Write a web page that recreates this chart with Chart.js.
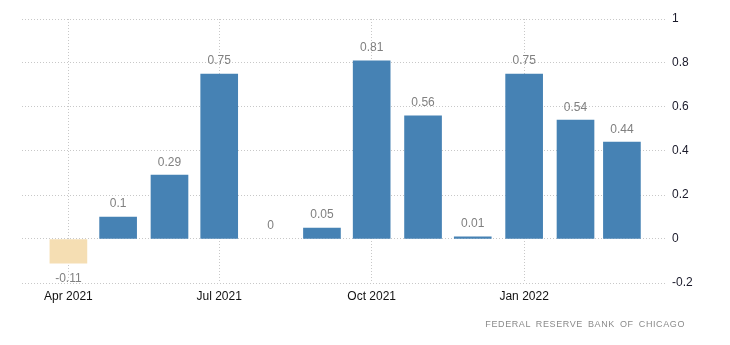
<!DOCTYPE html>
<html>
<head>
<meta charset="utf-8">
<script src="https://cdn.jsdelivr.net/npm/chart.js@4.4.1/dist/chart.umd.min.js"></script>
<style>
  html, body { margin: 0; padding: 0; background: #ffffff; }
  #wrap { position: relative; width: 730px; height: 345px; }
  #source {
    position: absolute;
    right: 45px;
    top: 319px;
    font: 9px "Liberation Sans", Arial, sans-serif;
    letter-spacing: 0.6px;
    word-spacing: 2px;
    color: #8a8a8a;
  }
</style>
</head>
<body>
<div id="wrap">
  <canvas id="chart" width="730" height="345"></canvas>
  <div id="source">FEDERAL RESERVE BANK OF CHICAGO</div>
</div>
<script>
// monthly values, Apr 2021 .. Mar 2022
const months = ['2021-04', '2021-05', '2021-06', '2021-07', '2021-08', '2021-09',
                '2021-10', '2021-11', '2021-12', '2022-01', '2022-02', '2022-03'];
const values = [-0.11, 0.1, 0.29, 0.75, 0, 0.05, 0.81, 0.56, 0.01, 0.75, 0.54, 0.44];
const tickMonths = ['2021-04', '2021-07', '2021-10', '2022-01'];
const tickLabels = ['Apr 2021', 'Jul 2021', 'Oct 2021', 'Jan 2022'];
const yTicks = [-0.2, 0, 0.2, 0.4, 0.6, 0.8, 1];

const FONT = '"Liberation Sans", Arial, sans-serif';
const BLUE = '#4682B4';
const WHEAT = '#F5DEB3';
const GRID = '#c8c8c8';

// days since the first month, so the x axis spaces bars like a time axis
const dayOf = (ym) => {
  const [y, m] = ym.split('-').map(Number);
  const [y0, m0] = months[0].split('-').map(Number);
  return (Date.UTC(y, m - 1, 1) - Date.UTC(y0, m0 - 1, 1)) / 86400000;
};

const points = months.map((m, i) => ({ x: dayOf(m), y: values[i] }));
const tickDays = tickMonths.map(dayOf);

const barColor = (v) => {
  if (v === 0) return 'rgba(0,0,0,0)';
  return v < 0 ? WHEAT : BLUE;
};

const valueLabels = {
  id: 'valueLabels',
  afterDatasetsDraw(chart) {
    const { ctx } = chart;
    const meta = chart.getDatasetMeta(0);
    ctx.save();
    ctx.font = `12px ${FONT}`;
    ctx.fillStyle = '#808080';
    ctx.textAlign = 'center';
    ctx.textBaseline = 'middle';
    meta.data.forEach((bar, i) => {
      const v = values[i];
      const y = v < 0 ? bar.y + 15 : bar.y - 13;
      ctx.fillText(String(v), bar.x, y);
    });
    ctx.restore();
  }
};

new Chart(document.getElementById('chart'), {
  type: 'bar',
  plugins: [valueLabels],
  data: {
    datasets: [{
      data: points,
      backgroundColor: values.map(barColor),
      borderWidth: 0,
      barThickness: 37
    }]
  },
  options: {
    responsive: false,
    animation: false,
    layout: { padding: { top: 19, left: 22, right: 0, bottom: 0 } },
    plugins: {
      legend: { display: false },
      tooltip: { enabled: false }
    },
    scales: {
      x: {
        type: 'linear',
        min: -28,
        max: 360,
        offset: false,
        afterBuildTicks(axis) {
          axis.ticks = tickDays.map((value) => ({ value }));
        },
        afterFit(axis) {
          axis.height = 62;
        },
        ticks: {
          color: '#111111',
          font: { family: FONT, size: 12 },
          padding: 6,
          maxRotation: 0,
          autoSkip: false,
          callback(value) {
            const idx = tickDays.indexOf(value);
            return idx >= 0 ? tickLabels[idx] : '';
          }
        },
        grid: {
          color: GRID,
          offset: false,
          drawTicks: false
        },
        border: { display: false, dash: [1, 2] }
      },
      y: {
        position: 'right',
        min: -0.2,
        max: 1,
        afterBuildTicks(axis) {
          axis.ticks = yTicks.map((value) => ({ value }));
        },
        afterFit(axis) {
          axis.width = 65;
        },
        ticks: {
          color: '#1a1a2a',
          font: { family: FONT, size: 12 },
          padding: 7,
          callback: (value) => String(value)
        },
        grid: {
          color: GRID,
          drawTicks: false
        },
        border: { display: false, dash: [1, 2] }
      }
    }
  }
});
</script>
</body>
</html>
